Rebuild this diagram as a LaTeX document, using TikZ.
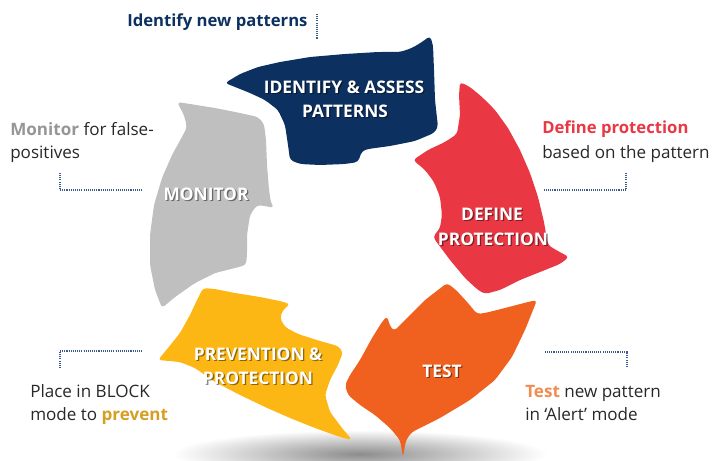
\documentclass[tikz,border=0pt]{standalone}
\usepackage{fontspec}
\setmainfont{Open Sans}
\definecolor{navyc}{RGB}{12,49,96}
\definecolor{redc}{RGB}{233,56,68}
\definecolor{orangec}{RGB}{240,96,30}
\definecolor{yellowc}{RGB}{252,183,21}
\definecolor{grayc}{RGB}{191,191,191}
\definecolor{darktext}{RGB}{40,40,40}
\definecolor{monitorc}{RGB}{150,150,150}
\definecolor{goldc}{RGB}{214,158,35}
\definecolor{testc}{RGB}{241,140,80}
\definecolor{dotc}{RGB}{60,90,140}
\newcommand{\shadowlabel}[4]{%
  \node[lblshadow] (#1s) at (#2+1.3,#3+1.3) {#4};
  \node[lbl] (#1) at (#2,#3) {#4};}
\begin{document}
\begin{tikzpicture}[x=0.75pt,y=-0.75pt,
  lbl/.style={text=white,font=\bfseries\fontsize{13}{15}\selectfont,inner sep=0pt,anchor=base},
  lblshadow/.style={text=black,opacity=0.45,font=\bfseries\fontsize{13}{15}\selectfont,inner sep=0pt,anchor=base},
  note/.style={text=darktext,font=\fontsize{12.8}{15}\selectfont,inner sep=0pt,anchor=base west},
  leader/.style={draw=dotc,line width=1.1pt,dash pattern=on 0.8pt off 0.8pt},
  seg/.style={rounded corners=2.6pt}]
\useasboundingbox (0,0) rectangle (716,460);
\clip (0,0) rectangle (716,460);
% shadow
\shade[inner color=black!45,outer color=white] (360,454) ellipse [x radius=140pt,y radius=18pt];
% navy
\fill[navyc,seg] (225,83) -- (240,74) -- (258,67) -- (280,62) -- (310,57) -- (345,54) -- (378,52) -- (400,52)
  -- (412,48) -- (422,42) -- (430,36) -- (433,45) -- (434,70) -- (435,100) -- (438,127) -- (434,133)
  -- (415,141) -- (390,146) -- (368,149) -- (362,151) -- (358,162) -- (345,164) -- (320,165) -- (300,164)
  -- (290,160) -- (288,145) -- (285,125) -- (278,110) -- (265,100) -- (250,93) -- (235,87) -- cycle;
% red
\fill[redc,seg] (460,82) -- (470,87) -- (482,97) -- (495,110) -- (508,128) -- (520,150) -- (530,173)
  -- (538,197) -- (544,222) -- (548,245) -- (556,250) -- (569,257) -- (560,264) -- (540,272) -- (520,280)
  -- (500,290) -- (485,294) -- (478,290) -- (465,278) -- (450,260) -- (438,244) -- (433,237) -- (440,228)
  -- (442,215) -- (440,197) -- (434,182) -- (425,170) -- (413,160) -- (428,150) -- (445,142) -- (457,134)
  -- (460,115) -- (459,95) -- cycle;
% orange
\fill[orangec,seg] (447,283) -- (438,290) -- (425,300) -- (412,313) -- (400,325) -- (394,331) -- (390,326)
  -- (387,316) -- (382,322) -- (372,338) -- (360,360) -- (350,375) -- (345,385) -- (348,395) -- (360,405)
  -- (375,415) -- (390,428) -- (400,440) -- (403,457) -- (406,440) -- (412,432) -- (440,418) -- (470,400)
  -- (495,380) -- (512,357) -- (525,330) -- (533,310) -- (537,300) -- (528,302) -- (505,308) -- (485,313)
  -- (477,314) -- (468,303) -- (456,290) -- cycle;
% yellow
\fill[yellowc,seg] (203,288) -- (215,289) -- (235,293) -- (260,297) -- (280,301) -- (290,304) -- (283,310)
  -- (280,318) -- (285,327) -- (298,334) -- (320,341) -- (338,346) -- (343,352) -- (338,365) -- (330,380)
  -- (325,395) -- (330,412) -- (342,428) -- (352,440) -- (340,437) -- (315,428) -- (290,418) -- (265,407)
  -- (240,395) -- (215,382) -- (195,368) -- (180,362) -- (158,360) -- (168,348) -- (180,333) -- (190,315)
  -- (198,298) -- cycle;
% gray
\fill[grayc,seg] (177,102) -- (190,104) -- (215,108) -- (240,113) -- (258,117) -- (264,124) -- (266,140)
  -- (267,165) -- (269,190) -- (271,203) -- (274,208) -- (265,206) -- (257,205) -- (250,215) -- (247,235)
  -- (247,255) -- (246,265) -- (235,268) -- (215,273) -- (195,283) -- (175,297) -- (162,308) -- (155,290)
  -- (150,265) -- (150,235) -- (154,205) -- (162,178) -- (172,155) -- (182,137) -- (187,127) -- (184,115) -- cycle;
% labels in shapes
\shadowlabel{ia1}{344}{93}{IDENTIFY \& ASSESS}
\shadowlabel{ia2}{345}{117}{PATTERNS}
\shadowlabel{dp1}{492}{220}{DEFINE}
\shadowlabel{dp2}{493}{245}{PROTECTION}
\shadowlabel{ts}{442}{377}{TEST}
\shadowlabel{pp1}{258}{360}{PREVENTION \&}
\shadowlabel{pp2}{258}{384}{PROTECTION}
\shadowlabel{mo}{206}{200}{MONITOR}
% notes
\node[note,text=navyc,font=\bfseries\fontsize{12.5}{15}\selectfont] (n1) at (127,27) {Identify new patterns};
\node[note] (n2a) at (10,135) {\textcolor{monitorc}{\bfseries Monitor} for false-};
\node[note] (n2b) at (10,158) {positives};
\node[note] (n3a) at (542,133) {\textcolor{redc}{\bfseries\fontsize{12.5}{15}\selectfont Define protection}};
\node[note] (n3b) at (542,158) {based on the pattern};
\node[note] (n4a) at (30,397) {Place in BLOCK};
\node[note] (n4b) at (30,420) {mode to \textcolor{goldc}{\bfseries prevent}};
\node[note] (n5a) at (525,397) {\textcolor{testc}{\bfseries Test} new pattern};
\node[note] (n5b) at (525,420) {in ‘Alert’ mode};
% leader lines
\coordinate (l1a) at (317,14); \coordinate (l1b) at (317,39);
\draw[leader] (l1a) -- (l1b);
\coordinate (l2a) at (60,173); \coordinate (l2b) at (60,190); \coordinate (l2c) at (142,190);
\draw[leader] (l2a) -- (l2b) -- (l2c);
\coordinate (l3a) at (626,173); \coordinate (l3b) at (626,190); \coordinate (l3c) at (544,190);
\draw[leader] (l3a) -- (l3b) -- (l3c);
\coordinate (l4a) at (60,368); \coordinate (l4b) at (60,351); \coordinate (l4c) at (142,351);
\draw[leader] (l4a) -- (l4b) -- (l4c);
\coordinate (l5a) at (627,367); \coordinate (l5b) at (627,352); \coordinate (l5c) at (544,352);
\draw[leader] (l5a) -- (l5b) -- (l5c);
\end{tikzpicture}
\end{document}
